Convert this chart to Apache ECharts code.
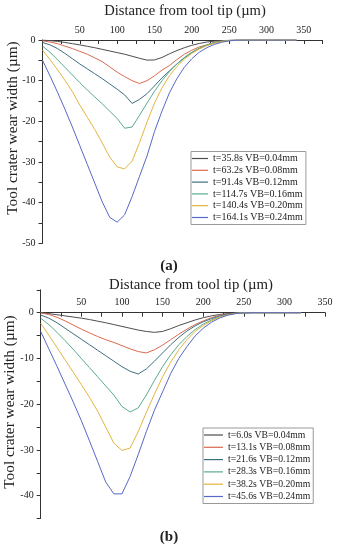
<!DOCTYPE html>
<html><head><meta charset="utf-8">
<script src="https://cdn.jsdelivr.net/npm/echarts@6/dist/echarts.min.js"></script>
<style>html,body{margin:0;padding:0;background:#fff}#c{width:337px;height:550px}</style>
</head><body><div id="c"></div>
<script>
// ---------- data (a) ----------
const distA = [0,10,20,30,40,50,60,70,80,90,100,110,120,130,140,150,160,170,180,190,200,210,220,230,240,250,260,270,280,290,300,310,320,330,340];
const namesA = ['t=35.8s VB=0.04mm','t=63.2s VB=0.08mm','t=91.4s VB=0.12mm','t=114.7s VB=0.16mm','t=140.4s VB=0.20mm','t=164.1s VB=0.24mm'];
const a004 = [0,-0.15,-0.35,-0.6,-0.9,-1.2,-1.55,-1.9,-2.3,-2.7,-3.1,-3.5,-4.0,-4.5,-4.95,-4.9,-4.3,-3.4,-2.6,-1.9,-1.3,-0.85,-0.5,-0.3,-0.15,-0.07,-0.02,0,0,0,0,0,0,0,0];
const a008 = [-0.2,-0.5,-0.9,-1.5,-2.1,-2.8,-3.5,-4.4,-5.3,-6.6,-7.9,-9.0,-10.0,-10.7,-10.0,-8.8,-7.4,-6.3,-4.8,-3.5,-2.5,-1.7,-1.2,-0.6,-0.28,-0.1,-0.02,0,0,0,0,0,0,0,0];
const a012 = [-0.6,-1.2,-2.1,-3.3,-4.6,-5.9,-7.1,-8.3,-9.5,-10.8,-12.1,-13.5,-15.6,-14.6,-13.2,-11.3,-9.3,-7.6,-5.9,-4.4,-3.1,-2.1,-1.3,-0.7,-0.35,-0.12,-0.03,0,0,0,0,0,0,0,0];
const a016 = [-1.5,-3.0,-4.8,-6.7,-8.6,-10.5,-12.3,-14.0,-15.7,-17.5,-19.3,-21.7,-21.4,-18.5,-15.5,-12.6,-10.0,-7.8,-5.9,-4.3,-3.0,-2.0,-1.2,-0.65,-0.3,-0.1,-0.03,0,0,0,0,0,0,0,0];
const a020 = [-2.5,-4.8,-7.3,-9.9,-12.7,-16.0,-19.0,-22.0,-25.3,-28.8,-31.2,-31.7,-29.8,-25.2,-20.2,-15.5,-11.8,-8.8,-6.5,-4.7,-3.3,-2.2,-1.4,-0.8,-0.4,-0.15,-0.04,0,0,0,0,0,0,0,0];
const a024 = [-5.0,-8.8,-12.8,-17.0,-21.4,-26.0,-30.6,-35.2,-39.8,-43.6,-44.8,-43.0,-38.5,-33.5,-28.5,-22.5,-17.5,-13.0,-9.5,-6.7,-4.6,-3.0,-1.9,-1.1,-0.55,-0.2,-0.05,0,0,0,0,0,0,0,0];
// ---------- data (b) ----------
const distB = [0,10,20,30,40,50,60,70,80,90,100,110,120,130,140,150,160,170,180,190,200,210,220,230,240,250,260,270,280,290,300,310,320];
const namesB = ['t=6.0s VB=0.04mm','t=13.1s VB=0.08mm','t=21.6s VB=0.12mm','t=28.3s VB=0.16mm','t=38.2s VB=0.20mm','t=45.6s VB=0.24mm'];
const b004 = [0,-0.2,-0.45,-0.7,-0.95,-1.2,-1.5,-1.85,-2.2,-2.6,-3.0,-3.4,-3.8,-4.1,-4.3,-4.1,-3.5,-2.8,-2.2,-1.6,-1.1,-0.7,-0.4,-0.2,-0.08,-0.02,0,0,0,0,0,0,0];
const b008 = [-0.05,-0.4,-1.0,-1.8,-2.7,-3.6,-4.4,-5.2,-5.9,-6.5,-7.2,-7.9,-8.5,-8.8,-8.1,-7.1,-5.9,-4.7,-3.6,-2.6,-1.8,-1.1,-0.6,-0.3,-0.1,-0.03,0,0,0,0,0,0,0];
const b012 = [-0.5,-1.2,-2.2,-3.4,-4.6,-5.8,-7.0,-8.2,-9.4,-10.6,-11.8,-12.8,-13.4,-12.3,-10.6,-8.8,-7.0,-5.4,-4.0,-2.9,-2.0,-1.3,-0.75,-0.35,-0.12,-0.03,0,0,0,0,0,0,0];
const b016 = [-1.2,-2.6,-4.3,-6.1,-8.0,-10.0,-12.0,-14.0,-16.0,-18.0,-20.5,-21.7,-20.8,-18.0,-14.8,-11.8,-9.2,-7.0,-5.2,-3.7,-2.5,-1.6,-0.9,-0.45,-0.15,-0.04,0,0,0,0,0,0,0];
const b020 = [-2.3,-4.9,-7.6,-10.3,-13.0,-15.7,-18.5,-21.5,-25.0,-28.5,-30.1,-29.6,-26.0,-21.8,-17.8,-14.0,-10.8,-8.1,-5.9,-4.1,-2.8,-1.8,-1.0,-0.5,-0.18,-0.05,0,0,0,0,0,0,0];
const b024 = [-4.1,-7.9,-11.7,-15.6,-19.5,-23.6,-28.0,-32.5,-37.0,-39.6,-39.6,-35.8,-31.0,-26.0,-21.3,-17.3,-13.3,-10.0,-7.4,-5.1,-3.4,-2.1,-1.2,-0.55,-0.2,-0.05,0,0,0,0,0,0,0];

const colors = ['#4d4d4d','#d96a50','#3f6f80','#5aab90','#e3b440','#5868c6'];
const seriesA = [a004,a008,a012,a016,a020,a024];
const seriesB = [b004,b008,b012,b016,b020,b024];

const FONT = '"Liberation Serif", "Times New Roman", serif';
const TXT = '#222';

function xAx(gi, max, offset) {
  return {
    type: 'value', gridIndex: gi, min: 0, max: max, interval: 25, position: 'top', offset: offset,
    axisLine: { show: true, onZero: false, lineStyle: { color: '#333', width: 1 } },
    axisTick: { show: true, inside: true, length: 4, lineStyle: { color: '#333' } },
    axisLabel: { fontFamily: FONT, fontSize: 10, color: TXT, margin: 5,
      formatter: v => (v % 50 === 0 && v > 0 && v <= 350) ? String(v) : '' },
    splitLine: { show: false }
  };
}
function yAx(gi, min, max) {
  return {
    type: 'value', gridIndex: gi, min: min, max: max, interval: 5,
    axisLine: { show: true, onZero: false, lineStyle: { color: '#333', width: 1 } },
    axisTick: { show: true, inside: false, length: 4, lineStyle: { color: '#333' } },
    axisLabel: { fontFamily: FONT, fontSize: 10, color: TXT, margin: 7,
      formatter: v => (v % 10 === 0 && v <= 0) ? String(v) : '' },
    splitLine: { show: false }
  };
}

const series = [];
seriesA.forEach((arr, i) => series.push({
  name: namesA[i], type: 'line', xAxisIndex: 0, yAxisIndex: 0, symbol: 'none', smooth: false,
  lineStyle: { width: 1, color: colors[i] }, itemStyle: { color: colors[i] },
  data: distA.map((d, k) => [d, arr[k]])
}));
seriesB.forEach((arr, i) => series.push({
  name: namesB[i], type: 'line', xAxisIndex: 1, yAxisIndex: 1, symbol: 'none', smooth: false,
  lineStyle: { width: 1, color: colors[i] }, itemStyle: { color: colors[i] },
  data: distB.map((d, k) => [d, arr[k]])
}));

function legend(names, left, top, gap, iw, fs) {
  return {
    show: true,
    data: names.map((n, i) => ({ name: n, icon: 'rect', itemStyle: { color: colors[i], opacity: 1, borderWidth: 0 } })),
    orient: 'vertical', left: left, top: top, itemWidth: iw, itemHeight: 1.2, itemGap: gap,
    padding: [2, 3, 2, 1], borderColor: '#999', borderWidth: 1, selectedMode: false,
    textStyle: { fontFamily: FONT, fontSize: fs, color: TXT, lineHeight: 10 }
  };
}

const chart = echarts.init(document.getElementById('c'), null, { renderer: 'canvas' });
chart.setOption({
  animation: false,
  backgroundColor: '#fff',
  grid: [
    { left: 42.5, top: 40, width: 280, height: 203.3 },
    { left: 40.7, top: 289.8, width: 284.4, height: 228.8 }
  ],
  xAxis: [xAx(0, 375, 0), xAx(1, 350, -22.9)],
  yAxis: [yAx(0, -50, 0), yAx(1, -45, 5)],
  legend: [legend(namesA, 191, 151.5, 1.8, 16, 10), legend(namesB, 203, 428, 2.3, 19, 9.7)],
  series: series,
  graphic: [
    { type: 'text', x: 185, y: 11, style: { text: 'Distance from tool tip (µm)', font: '14.6px ' + FONT, fill: TXT, align: 'center', verticalAlign: 'middle' } },
    { type: 'text', x: 191, y: 285, style: { text: 'Distance from tool tip (µm)', font: '14.8px ' + FONT, fill: TXT, align: 'center', verticalAlign: 'middle' } },
    { type: 'text', x: 13, y: 128, rotation: Math.PI / 2, style: { text: 'Tool crater wear width (µm)', font: '15.3px ' + FONT, fill: TXT, align: 'center', verticalAlign: 'middle' } },
    { type: 'text', x: 10, y: 402, rotation: Math.PI / 2, style: { text: 'Tool crater wear width (µm)', font: '15.3px ' + FONT, fill: TXT, align: 'center', verticalAlign: 'middle' } },
    { type: 'text', x: 169, y: 266, style: { text: '(a)', font: 'bold 15px ' + FONT, fill: TXT, align: 'center', verticalAlign: 'middle' } },
    { type: 'text', x: 169, y: 537, style: { text: '(b)', font: 'bold 15px ' + FONT, fill: TXT, align: 'center', verticalAlign: 'middle' } }
  ]
});
</script></body></html>
